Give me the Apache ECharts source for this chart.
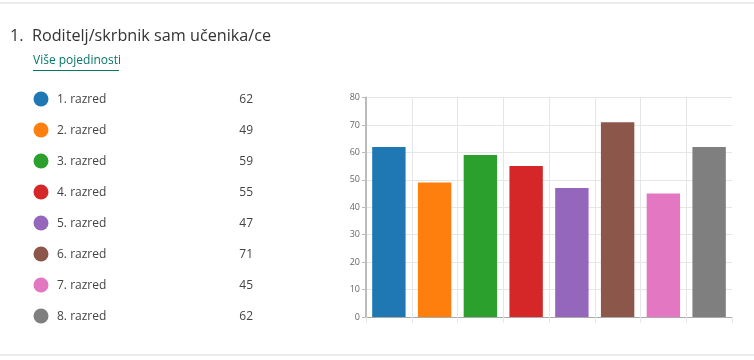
<!DOCTYPE html>
<html><head><meta charset="utf-8">
<script src="https://cdn.jsdelivr.net/npm/echarts@6/dist/echarts.min.js"></script>
<style>html,body{margin:0;padding:0;background:#fff}#c{width:754px;height:360px}</style>
</head><body><div id="c"></div>
<script>
const titleText = '1.  Roditelj/skrbnik sam učenika/ce';
const linkText = 'Više pojedinosti';
const categories = ['1. razred','2. razred','3. razred','4. razred','5. razred','6. razred','7. razred','8. razred'];
const values = [62, 49, 59, 55, 47, 71, 45, 62];
const colors = ['#1f77b4','#ff7f0e','#2ca02c','#d62728','#9467bd','#8c564b','#e377c2','#7f7f7f'];
const yTicks = [0,10,20,30,40,50,60,70,80];

const FONT = '"Segoe UI","Open Sans",sans-serif';
const chart = echarts.init(document.getElementById('c'), null, {renderer:'canvas'});

const graphics = [
  {type:'rect', shape:{x:0,y:2,width:754,height:2}, style:{fill:'#ececec'}},
  {type:'rect', shape:{x:0,y:354,width:754,height:2}, style:{fill:'#ececec'}},
  {type:'text', left:10, top:28, style:{text:titleText, font:'16.2px '+FONT, fill:'#333'}},
  {type:'text', left:33, top:55, style:{text:linkText, font:'12px '+FONT, fill:'#077568'}},
  {type:'rect', shape:{x:33,y:70,width:86,height:1}, style:{fill:'#077568'}}
];
categories.forEach((c,i)=>{
  const cy = 99 + i*31;
  graphics.push({type:'circle', shape:{cx:41, cy:cy, r:7.5}, style:{fill:colors[i]}});
  graphics.push({type:'text', x:57, y:cy+0.5, style:{text:c, font:'12px '+FONT, fill:'#444', verticalAlign:'middle'}});
  graphics.push({type:'text', x:253, y:cy+0.5, style:{text:String(values[i]), font:'12px '+FONT, fill:'#444', verticalAlign:'middle', align:'right'}});
});

const splitColors = categories.map((c,i)=> i===0 ? 'rgba(0,0,0,0)' : '#e6e6e6');

chart.setOption({
  animation:false,
  graphic: graphics,
  grid:{left:366, top:97.5, right:22, bottom:43, containLabel:false},
  xAxis:{type:'category', data:categories, boundaryGap:true,
    axisLine:{lineStyle:{color:'#aaa', width:1}},
    axisTick:{show:true, interval:0, length:6, lineStyle:{color:'#e6e6e6'}},
    axisLabel:{show:false, interval:0},
    splitLine:{show:true, interval:0, lineStyle:{color:splitColors}}},
  yAxis:{type:'value', min:yTicks[0], max:yTicks[yTicks.length-1], interval:10,
    axisLine:{show:true, lineStyle:{color:'#bbb', width:2}},
    axisTick:{show:true, length:4, lineStyle:{color:'#bbb'}},
    axisLabel:{fontSize:9, color:'#666', fontFamily:FONT, margin:6},
    splitLine:{show:true, lineStyle:{color:'#e6e6e6'}}},
  series:[{type:'bar', data:values.map((v,i)=>({value:v, itemStyle:{color:colors[i]}})), barWidth:'73%'}]
});
</script></body></html>
